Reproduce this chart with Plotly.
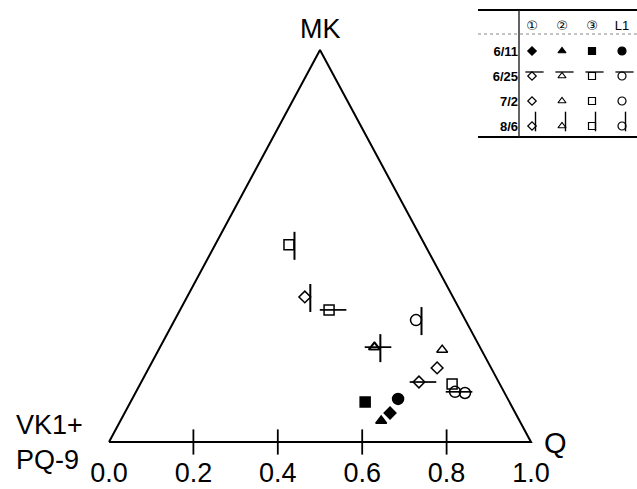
import plotly.graph_objects as go

# ---------------- data (ternary fractions) ----------------
samples = ["①", "②", "③", "L1"]
dates = ["6/11", "6/25", "7/2", "8/6"]

# MK fraction and Q fraction for each sample (order: ①, ②, ③, L1)
mk_0611 = [0.074, 0.054, 0.102, 0.110]
q_0611 = [0.629, 0.618, 0.556, 0.630]
mk_0625 = [0.153, 0.242, 0.337, 0.128]
q_0625 = [0.658, 0.507, 0.353, 0.756]
mk_0702 = [0.189, 0.235, 0.148, 0.125]
q_0702 = [0.683, 0.672, 0.739, 0.781]
mk_0806 = [0.370, 0.242, 0.503, 0.311]
q_0806 = [0.279, 0.509, 0.175, 0.572]

mk_by_date = [mk_0611, mk_0625, mk_0702, mk_0806]
q_by_date = [q_0611, q_0625, q_0702, q_0806]

tick_vals = [0.0, 0.2, 0.4, 0.6, 0.8, 1.0]
tick_text = ["0.0", "0.2", "0.4", "0.6", "0.8", "1.0"]
inner_ticks = [0.2, 0.4, 0.6, 0.8]

apex_label = "MK"
left_label = "VK1+<br>PQ-9"
right_label = "Q"

# ---------------- styling / geometry ----------------
W, H = 637, 489
X0_PX, X1_PX = 109, 531          # left and right vertex
BASE_PX, APEX_PX = 442, 50       # base line and apex
PPX = X1_PX - X0_PX              # pixels per unit along x
PPY = BASE_PX - APEX_PX          # pixels per unit along y

FONT = "Arial, 'Liberation Sans', 'DejaVu Sans', 'Noto Sans CJK JP', sans-serif"
BLACK = "#000000"

base_symbols = ["diamond", "triangle-up", "square", "circle"]
main_sizes = [9, 9.5, 10, 11]
leg_sizes = [6.5, 7, 7, 8]

# table geometry (pixels)
T_LEFT, T_VLINE, T_TOP, T_HEAD, T_BOT = 478, 519, 10, 34, 137
COL0_PX, COL_STEP = 532, 30
ROW0_PX, ROW_STEP = 51, 25

fig = go.Figure()

# triangle outline
fig.add_trace(go.Scatter(x=[0, 1, 0.5, 0], y=[0, 0, 1, 0], mode="lines",
                         line=dict(color=BLACK, width=2), hoverinfo="skip",
                         showlegend=False))
# tick marks crossing the base
fig.add_trace(go.Scatter(x=inner_ticks, y=[0] * len(inner_ticks), mode="markers",
                         marker=dict(symbol="line-ns", size=18, opacity=1,
                                     line=dict(color=BLACK, width=1.8)),
                         hoverinfo="skip", showlegend=False))


def to_xy(mk, q):
    return [qq + m / 2 for m, qq in zip(mk, q)], list(mk)


for di, date in enumerate(dates):
    xs, ys = to_xy(mk_by_date[di], q_by_date[di])
    filled = di == 0
    syms = [s if filled else s + "-open" for s in base_symbols]
    fig.add_trace(go.Scatter(
        x=xs, y=ys, mode="markers", name=date, showlegend=False,
        marker=dict(symbol=syms, size=main_sizes, color=BLACK, opacity=1,
                    line=dict(color=BLACK, width=1.5))))
    if date == "6/25":   # horizontal stroke
        fig.add_trace(go.Scatter(
            x=[x + 4 / PPX for x in xs], y=ys, mode="markers", showlegend=False,
            hoverinfo="skip",
            marker=dict(symbol="line-ew", size=19, opacity=1,
                        line=dict(color=BLACK, width=1.7))))
    if date == "8/6":    # vertical stem
        fig.add_trace(go.Scatter(
            x=[x + 5.5 / PPX for x in xs], y=[y - 1 / PPY for y in ys], mode="markers",
            showlegend=False, hoverinfo="skip",
            marker=dict(symbol="line-ns", size=20, opacity=1,
                        line=dict(color=BLACK, width=2))))

# ---------------- symbol table (second axes) ----------------
for di, date in enumerate(dates):
    cols = list(range(len(samples)))
    rows = [di] * len(samples)
    filled = di == 0
    syms = [s if filled else s + "-open" for s in base_symbols]
    fig.add_trace(go.Scatter(
        x=cols, y=rows, xaxis="x2", yaxis="y2", mode="markers", showlegend=False,
        hoverinfo="skip",
        marker=dict(symbol=syms, size=leg_sizes, color=BLACK, opacity=1,
                    line=dict(color=BLACK, width=1.2))))
    if date == "6/25":
        fig.add_trace(go.Scatter(
            x=[c + 2.5 / COL_STEP for c in cols], y=[r - 4 / ROW_STEP for r in rows],
            xaxis="x2", yaxis="y2", mode="markers", showlegend=False, hoverinfo="skip",
            marker=dict(symbol="line-ew", size=13, opacity=1,
                        line=dict(color=BLACK, width=1.3))))
    if date == "8/6":
        fig.add_trace(go.Scatter(
            x=[c + 3.5 / COL_STEP for c in cols], y=[r - 4.5 / ROW_STEP for r in rows],
            xaxis="x2", yaxis="y2", mode="markers", showlegend=False, hoverinfo="skip",
            marker=dict(symbol="line-ns", size=14, opacity=1,
                        line=dict(color=BLACK, width=1.4))))


def px_x(p):
    return p / W


def px_y(p):
    return 1 - p / H


shapes = [
    dict(type="line", xref="paper", yref="paper", x0=px_x(T_LEFT), x1=1,
         y0=px_y(T_TOP), y1=px_y(T_TOP), line=dict(color=BLACK, width=2)),
    dict(type="line", xref="paper", yref="paper", x0=px_x(T_LEFT), x1=1,
         y0=px_y(T_BOT), y1=px_y(T_BOT), line=dict(color=BLACK, width=2)),
    dict(type="line", xref="paper", yref="paper", x0=px_x(T_LEFT), x1=1,
         y0=px_y(T_HEAD), y1=px_y(T_HEAD), line=dict(color="#888888", width=1, dash="dot")),
    dict(type="line", xref="paper", yref="paper", x0=px_x(T_VLINE), x1=px_x(T_VLINE),
         y0=px_y(T_TOP), y1=px_y(T_BOT), line=dict(color="#222222", width=1.4)),
]

annotations = [
    dict(x=0.5, y=1, xref="x", yref="y", text=apex_label, showarrow=False,
         xanchor="center", yanchor="bottom", yshift=4,
         font=dict(family=FONT, size=27, color=BLACK)),
    dict(x=0, y=0, xref="x", yref="y", text=left_label, showarrow=False,
         xanchor="right", yanchor="middle", xshift=-24, align="left",
         font=dict(family=FONT, size=27, color=BLACK)),
    dict(x=1, y=0, xref="x", yref="y", text=right_label, showarrow=False,
         xanchor="left", yanchor="middle", xshift=11, yshift=-1,
         font=dict(family=FONT, size=29, color=BLACK)),
]

fig.update_layout(
    width=W, height=H, margin=dict(l=0, r=0, t=0, b=0, autoexpand=False),
    paper_bgcolor="white", plot_bgcolor="white",
    shapes=shapes, annotations=annotations,
    xaxis=dict(domain=[0, 1], range=[-X0_PX / PPX, (W - X0_PX) / PPX],
               anchor="free", position=1 - BASE_PX / H, automargin=False,
               tickvals=tick_vals, ticktext=tick_text, ticks="",
               ticklabelstandoff=12,
               tickfont=dict(family=FONT, size=27, color=BLACK),
               showgrid=False, zeroline=False, showline=False, fixedrange=True),
    yaxis=dict(domain=[0, 1], range=[-(H - BASE_PX) / PPY, BASE_PX / PPY],
               automargin=False,
               visible=False, showgrid=False, zeroline=False, fixedrange=True),
    xaxis2=dict(domain=[px_x(T_VLINE), 1],
                range=[(T_VLINE - COL0_PX) / COL_STEP, (W - COL0_PX) / COL_STEP],
                anchor="y2", side="top", tickvals=list(range(len(samples))),
                automargin=False,
                ticktext=samples, ticks="", showgrid=False, zeroline=False,
                showline=False, tickfont=dict(family=FONT, size=13, color=BLACK),
                fixedrange=True),
    yaxis2=dict(domain=[px_y(T_BOT), px_y(T_HEAD)],
                range=[(T_BOT - ROW0_PX) / ROW_STEP, (T_HEAD - ROW0_PX) / ROW_STEP],
                anchor="x2", tickvals=list(range(len(dates))), ticktext=dates,
                automargin=False,
                ticks="", showgrid=False, zeroline=False, showline=False,
                tickfont=dict(family=FONT, size=13, color=BLACK, weight="bold"),
                fixedrange=True),
)

fig.write_html("out.html")
